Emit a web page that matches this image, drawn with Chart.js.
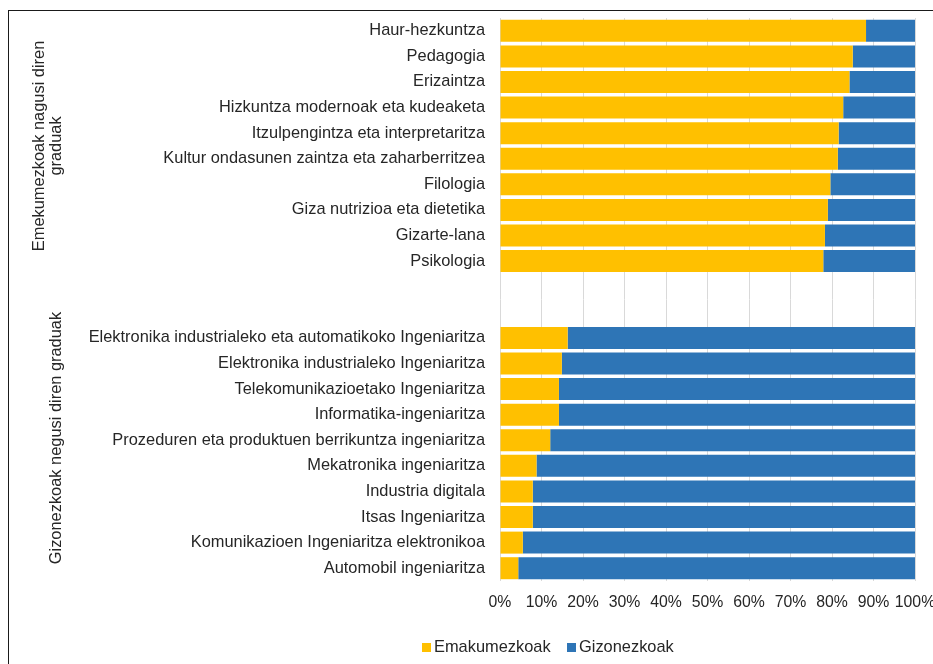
<!DOCTYPE html>
<html><head><meta charset="utf-8">
<script src="https://cdn.jsdelivr.net/npm/chart.js@4/dist/chart.umd.min.js"></script>
<style>
html,body{margin:0;padding:0;background:#fff;overflow:hidden}
#wrap{position:relative;width:933px;height:664px;overflow:hidden}
#c{position:absolute;left:0;top:0}
#frame{position:absolute;left:8px;top:10px;width:960px;height:700px;border:1.5px solid #1a1a1a;box-sizing:border-box;pointer-events:none}
#legend{position:absolute;top:636px;left:0;width:933px;height:20px;font-family:"Liberation Sans",Arial,sans-serif;font-size:16.4px;color:#262626}
.item{position:absolute;top:0;white-space:nowrap;line-height:20px}
.box{display:inline-block;width:9px;height:9px;margin-right:3px;vertical-align:0px}
</style></head>
<body>
<div id="wrap">
<canvas id="c" width="950" height="664" style="width:950px;height:664px"></canvas>
<div id="frame"></div>
<div id="legend"></div>
</div>
<script>
const categories = [
  'Haur-hezkuntza','Pedagogia','Erizaintza','Hizkuntza modernoak eta kudeaketa',
  'Itzulpengintza eta interpretaritza','Kultur ondasunen zaintza eta zaharberritzea',
  'Filologia','Giza nutrizioa eta dietetika','Gizarte-lana','Psikologia',
  '','',
  'Elektronika industrialeko eta automatikoko Ingeniaritza','Elektronika industrialeko Ingeniaritza',
  'Telekomunikazioetako Ingeniaritza','Informatika-ingeniaritza',
  'Prozeduren eta produktuen berrikuntza ingeniaritza','Mekatronika ingeniaritza',
  'Industria digitala','Itsas Ingeniaritza','Komunikazioen Ingeniaritza elektronikoa','Automobil ingeniaritza'
];
const emakumezkoak = [88.2,85.0,84.2,82.7,81.6,81.4,79.6,79.0,78.3,77.9,null,null,16.3,14.9,14.2,14.2,12.1,8.8,7.9,7.9,5.5,4.4];
const gizonezkoak  = [11.8,15.0,15.8,17.3,18.4,18.6,20.4,21.0,21.7,22.1,null,null,83.7,85.1,85.8,85.8,87.9,91.2,92.1,92.1,94.5,95.6];
const seriesNames = ['Emakumezkoak','Gizonezkoak'];
const seriesColors = ['#FFC000','#2E75B6'];
const xTickLabels = ['0%','10%','20%','30%','40%','50%','60%','70%','80%','90%','100%'];
const groupTitles = [['Emekumezkoak nagusi diren','graduak'],['Gizonezkoak negusi diren graduak']];

const FONT = '"Liberation Sans", Arial, sans-serif';
const TXT = '#262626';

const groupPlugin = {
  id:'groups',
  afterDraw(chart){
    const ctx = chart.ctx, y = chart.scales.y;
    ctx.save();
    ctx.font = '16.4px ' + FONT;
    ctx.fillStyle = TXT;
    ctx.textAlign = 'center';
    ctx.textBaseline = 'middle';
    const c1 = (y.getPixelForValue(0) + y.getPixelForValue(9)) / 2;
    ctx.save(); ctx.translate(48, c1); ctx.rotate(-Math.PI/2);
    ctx.fillText(groupTitles[0][0], 0, -8.5);
    ctx.fillText(groupTitles[0][1], 0, 8.5);
    ctx.restore();
    const c2 = (y.getPixelForValue(12) + y.getPixelForValue(21)) / 2 - 15;
    ctx.save(); ctx.translate(56, c2); ctx.rotate(-Math.PI/2);
    ctx.fillText(groupTitles[1][0], 0, 0);
    ctx.restore();
    ctx.restore();
  }
};

new Chart(document.getElementById('c'), {
  type:'bar',
  data:{
    labels:categories,
    datasets:[
      {label:seriesNames[0], data:emakumezkoak, backgroundColor:seriesColors[0], barPercentage:0.86, categoryPercentage:1},
      {label:seriesNames[1], data:gizonezkoak, backgroundColor:seriesColors[1], barPercentage:0.86, categoryPercentage:1}
    ]
  },
  options:{
    indexAxis:'y',
    responsive:false,
    animation:false,
    layout:{padding:{top:18,right:35,bottom:53,left:0}},
    plugins:{legend:{display:false},tooltip:{enabled:false}},
    scales:{
      x:{
        stacked:true, min:0, max:100,
        grid:{color:'#d9d9d9', lineWidth:1, drawTicks:false},
        border:{display:false},
        ticks:{stepSize:10, padding:12, color:TXT, font:{family:FONT,size:15.8},
               maxRotation:0, autoSkip:false,
               callback:(v,i)=>xTickLabels[i]},
        afterFit:s=>{s.height=30; s.paddingLeft=0; s.paddingRight=0;}
      },
      y:{
        stacked:true,
        grid:{display:false, drawTicks:false},
        border:{display:false},
        ticks:{padding:15, color:TXT, font:{family:FONT,size:16.4}, autoSkip:false},
        afterFit:s=>{s.width=500; s.paddingTop=0; s.paddingBottom=0;}
      }
    }
  },
  plugins:[groupPlugin]
});

// HTML legend
const lg = document.getElementById('legend');
const lefts = [422, 567];
seriesNames.forEach((n,i)=>{
  const d = document.createElement('div');
  d.className='item'; d.style.left = lefts[i]+'px';
  d.innerHTML = '<span class="box" style="background:'+seriesColors[i]+'"></span>'+n;
  lg.appendChild(d);
});
</script>
</body></html>
